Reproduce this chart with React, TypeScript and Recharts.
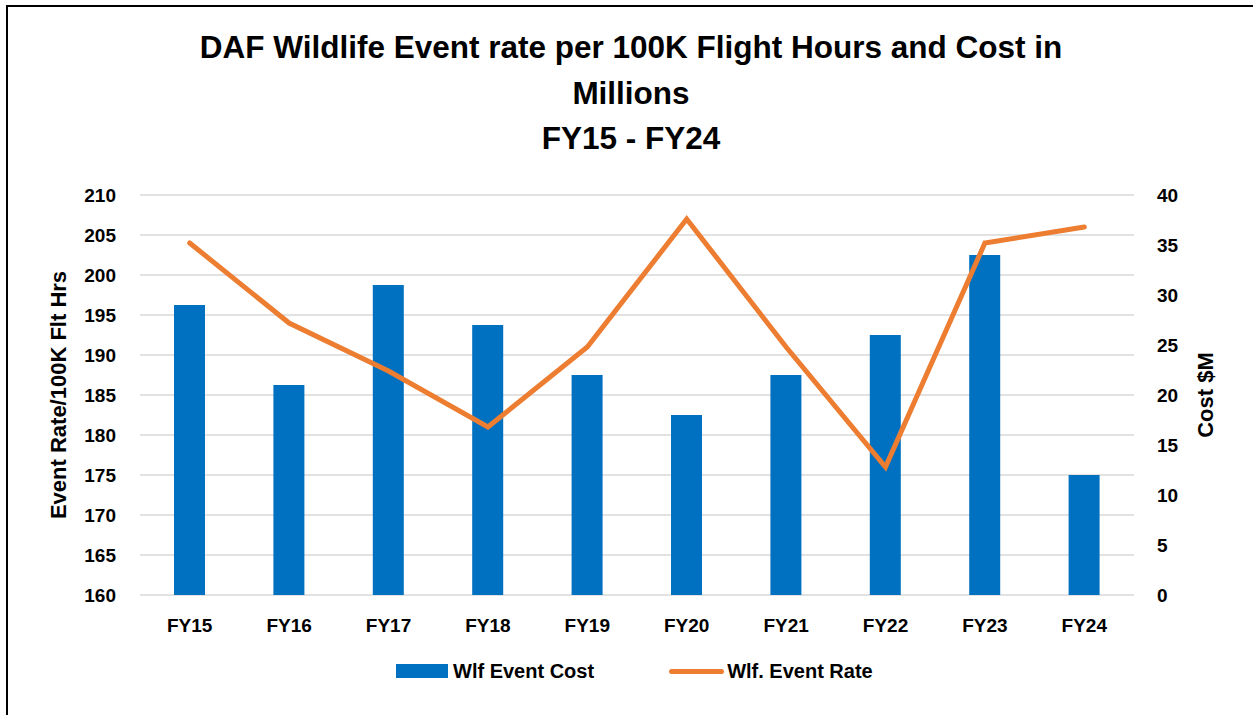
import { ComposedChart, Bar, Line, XAxis, YAxis, CartesianGrid, Legend } from 'recharts';

const years = ['FY15', 'FY16', 'FY17', 'FY18', 'FY19', 'FY20', 'FY21', 'FY22', 'FY23', 'FY24'];
const eventCost = [29, 21, 31, 27, 22, 18, 22, 26, 34, 12];
const eventRate = [204, 194, 188, 181, 191, 207, 191, 176, 204, 206];
const rateTicks = [160, 165, 170, 175, 180, 185, 190, 195, 200, 205, 210];
const costTicks = [0, 5, 10, 15, 20, 25, 30, 35, 40];
const titleLines = ['DAF Wildlife Event rate per 100K Flight Hours and Cost in', 'Millions', 'FY15 - FY24'];

const BLUE = '#0070C0';
const ORANGE = '#ED7D31';
const FONT = '"Liberation Sans", Arial, sans-serif';

const chartData = years.map((year, i) => ({
  year,
  cost: eventCost[i],
  rate: eventRate[i],
}));

// rotated axis title, drawn at a fixed x and centred on the axis
const sideTitle = (text: string, x: number) => (props: any) => {
  const vb = props.viewBox || {};
  const cy = (vb.y ?? 195) + (vb.height ?? 400) / 2;
  return (
    <text
      x={x}
      y={cy}
      dy={8}
      transform={`rotate(-90 ${x} ${cy})`}
      textAnchor="middle"
      fill="#000"
      style={{ fontFamily: FONT, fontWeight: 700, fontSize: 22 }}
    >
      {text}
    </text>
  );
};

//@ts-ignore
const LegendContent = ({ payload }) => {
  const items = payload || [];
  return (
    <div style={{ display: 'flex', alignItems: 'center', height: 50, fontFamily: FONT, fontWeight: 700, fontSize: 20, color: '#000' }}>
      {items.map((item: any, i: number) => (
        <div key={item.value} style={{ display: 'flex', alignItems: 'center', marginLeft: i === 0 ? 0 : 75 }}>
          {item.type === 'rect' ? (
            <span style={{ display: 'inline-block', width: 52, height: 14, background: item.color, marginRight: 5 }} />
          ) : (
            <span style={{ display: 'inline-block', width: 55, height: 5, borderRadius: 3, background: item.color, marginRight: 3 }} />
          )}
          <span>{item.value}</span>
        </div>
      ))}
    </div>
  );
};

const tickStyle = { fontFamily: FONT, fontWeight: 700, fontSize: 19, fill: '#000' };

export default function App() {
  return (
    <div>
      <div
        style={{
          position: 'absolute',
          left: 6,
          top: 5,
          width: 1247,
          height: 710,
          borderLeft: '2px solid #000',
          borderTop: '2px solid #000',
          boxSizing: 'border-box',
          background: '#fff',
        }}
      />
      <div
        style={{
          position: 'absolute',
          left: 0,
          top: 25,
          width: 1262,
          textAlign: 'center',
          fontFamily: FONT,
          fontWeight: 700,
          fontSize: 31.5,
          lineHeight: '45.5px',
          color: '#000',
        }}
      >
        {titleLines.map((t) => (
          <div key={t}>{t}</div>
        ))}
      </div>
      <div style={{ position: 'absolute', left: 0, top: 0 }}>
        <ComposedChart
          width={1253}
          height={715}
          data={chartData}
          margin={{ top: 195, right: 19, bottom: 20, left: 40 }}
        >
          <CartesianGrid yAxisId="left" vertical={false} stroke="#D9D9D9" strokeWidth={1.5} />
          <XAxis
            dataKey="year"
            axisLine={false}
            tickLine={false}
            tickMargin={18}
            height={50}
            tick={tickStyle}
            interval={0}
          />
          <YAxis
            yAxisId="left"
            orientation="left"
            domain={[160, 210]}
            ticks={rateTicks}
            axisLine={false}
            tickLine={false}
            tickMargin={18}
            width={100}
            tick={tickStyle}
            label={{ value: 'Event Rate/100K Flt Hrs', content: sideTitle('Event Rate/100K Flt Hrs', 58) }}
          />
          <YAxis
            yAxisId="right"
            orientation="right"
            domain={[0, 40]}
            ticks={costTicks}
            axisLine={false}
            tickLine={false}
            tickMargin={17}
            width={100}
            tick={tickStyle}
            label={{ value: 'Cost $M', content: sideTitle('Cost $M', 1205) }}
          />
          <Legend
            content={<LegendContent payload={undefined} />}
            wrapperStyle={{ left: 396, top: 646, width: 520, height: 50 }}
          />
          <Bar
            yAxisId="right"
            dataKey="cost"
            name="Wlf Event Cost"
            fill={BLUE}
            barSize={31}
            legendType="rect"
            isAnimationActive={false}
          />
          <Line
            yAxisId="left"
            type="linear"
            dataKey="rate"
            name="Wlf. Event Rate"
            stroke={ORANGE}
            strokeWidth={5}
            strokeLinecap="round"
            dot={false}
            activeDot={false}
            legendType="line"
            isAnimationActive={false}
          />
        </ComposedChart>
      </div>
    </div>
  );
}
